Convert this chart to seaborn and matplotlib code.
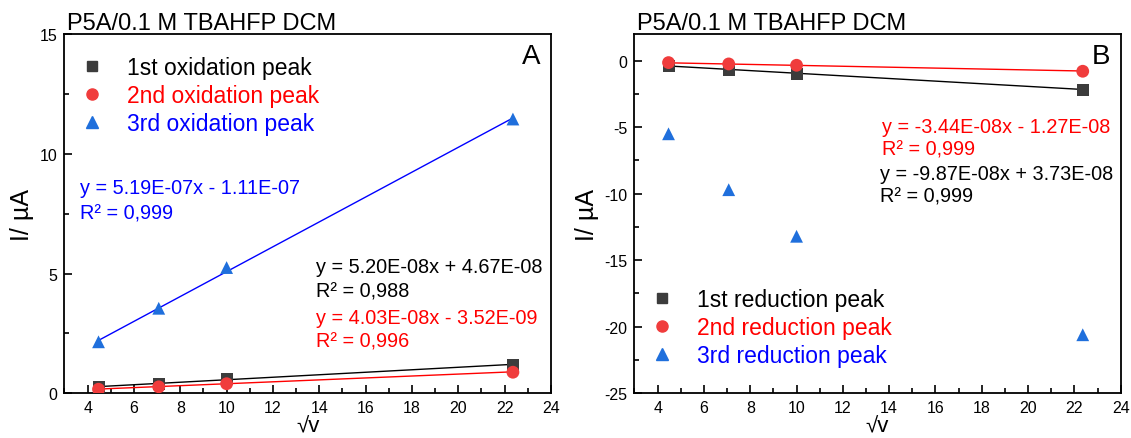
import numpy as np
import pandas as pd
import matplotlib
matplotlib.use("Agg")
import matplotlib.pyplot as plt
from matplotlib.lines import Line2D
import seaborn as sns

# ---------------- data ----------------
sqrt_v = [4.47, 7.07, 10.0, 22.36]

ox1 = [0.27, 0.38, 0.60, 1.20]
ox2 = [0.17, 0.27, 0.40, 0.88]
ox3 = [2.15, 3.55, 5.25, 11.45]

red1 = [-0.40, -0.68, -0.98, -2.20]
red2 = [-0.15, -0.25, -0.35, -0.80]
red3 = [-5.50, -9.70, -13.20, -20.60]

ox_labels = ["1st oxidation peak", "2nd oxidation peak", "3rd oxidation peak"]
red_labels = ["1st reduction peak", "2nd reduction peak", "3rd reduction peak"]

# fit coefficients (in A, shown on chart); plotted in µA
fit_ox1 = (5.20e-08, 4.67e-08)
fit_ox2 = (4.03e-08, -3.52e-09)
fit_ox3 = (5.19e-07, -1.11e-07)
fit_red1 = (-9.87e-08, 3.73e-08)
fit_red2 = (-3.44e-08, -1.27e-08)

eq_ox1 = ["y = 5.20E-08x + 4.67E-08", "R² = 0,988"]
eq_ox2 = ["y = 4.03E-08x - 3.52E-09", "R² = 0,996"]
eq_ox3 = ["y = 5.19E-07x - 1.11E-07", "R² = 0,999"]
eq_red1 = ["y = -9.87E-08x + 3.73E-08", "R² = 0,999"]
eq_red2 = ["y = -3.44E-08x - 1.27E-08", "R² = 0,999"]

title = "P5A/0.1 M TBAHFP DCM"

# ---------------- style ----------------
sns.set_theme(style="white")
plt.rcParams["font.family"] = ["Liberation Sans", "DejaVu Sans"]
plt.rcParams["axes.linewidth"] = 1.3
plt.rcParams["xtick.direction"] = "in"
plt.rcParams["ytick.direction"] = "in"
plt.rcParams["axes.unicode_minus"] = False
plt.rcParams["text.color"] = "black"
plt.rcParams["axes.labelcolor"] = "black"
plt.rcParams["xtick.color"] = "black"
plt.rcParams["ytick.color"] = "black"
plt.rcParams["axes.titlecolor"] = "black"

C_BLK_M = "#3c3c3c"
C_RED_M = "#f03c3c"
C_BLU_M = "#1f6fdc"
C_BLK = "black"
C_RED = "#ff0000"
C_BLU = "#0000ff"

fig = plt.figure(figsize=(11.31, 4.39), dpi=100)
axA = fig.add_axes([0.0570, 0.1018, 0.4301, 0.8185])
axB = fig.add_axes([0.5610, 0.1018, 0.4299, 0.8185])

def fit_line(ax, fit, color):
    xs = np.array([sqrt_v[0], sqrt_v[-1]])
    ys = (fit[0] * xs + fit[1]) * 1e6
    df = pd.DataFrame({"x": xs, "y": ys})
    sns.lineplot(data=df, x="x", y="y", ax=ax, color=color, linewidth=1.0)

def scatter(ax, ys, color, marker, size):
    df = pd.DataFrame({"x": sqrt_v, "y": ys})
    sns.scatterplot(data=df, x="x", y="y", ax=ax, color=color, marker=marker,
                    s=size, edgecolor="none", linewidth=0, zorder=3)

# ---- Panel A ----
fit_line(axA, fit_ox1, C_BLK)
fit_line(axA, fit_ox2, C_RED)
fit_line(axA, fit_ox3, C_BLU)
scatter(axA, ox1, C_BLK_M, "s", 75)
scatter(axA, ox2, C_RED_M, "o", 85)
scatter(axA, ox3, C_BLU_M, "^", 85)

# ---- Panel B ----
fit_line(axB, fit_red1, C_BLK)
fit_line(axB, fit_red2, C_RED)
scatter(axB, red1, C_BLK_M, "s", 75)
scatter(axB, red2, C_RED_M, "o", 85)
scatter(axB, red3, C_BLU_M, "^", 85)

for ax in (axA, axB):
    ax.set_xlim(3, 24)
    ax.set_xticks(np.arange(4, 25, 2))
    ax.set_xticks(np.arange(3, 25, 1), minor=True)
    ax.tick_params(axis="both", which="major", length=6, width=1.2, labelsize=11.5,
                   direction="in", bottom=True, left=True, top=False, right=False, pad=5,
                   colors="black")
    ax.tick_params(axis="both", which="minor", length=3.5, width=1.2,
                   direction="in", bottom=True, left=True, top=False, right=False,
                   colors="black")
    for s in ax.spines.values():
        s.set_color("black")
        s.set_linewidth(1.3)
    ax.set_xlabel("√v", fontsize=16, labelpad=0.5, color="black")
    ax.set_ylabel("I/ µA", fontsize=18, labelpad=4, color="black")
    ax.set_title(title, fontsize=17, loc="left", pad=2, x=0.005, color="black")

axA.set_ylim(0, 15)
axA.set_yticks([0, 5, 10, 15])
axA.set_yticks(np.arange(0, 15.1, 2.5), minor=True)

axB.set_ylim(-25, 2)
axB.set_yticks([-25, -20, -15, -10, -5, 0])
axB.set_yticks(np.arange(-25, 2, 2.5), minor=True)

# legends
def make_legend(ax, labels, anchor):
    handles = [
        Line2D([], [], linestyle="none", marker="s", color=C_BLK_M, markersize=7.5),
        Line2D([], [], linestyle="none", marker="o", color=C_RED_M, markersize=8),
        Line2D([], [], linestyle="none", marker="^", color=C_BLU_M, markersize=8),
    ]
    leg = ax.legend(handles, labels, loc="upper left", bbox_to_anchor=anchor,
                    frameon=False, fontsize=16.5, handlelength=0.9, handletextpad=1.1,
                    labelspacing=0.22, borderpad=0, borderaxespad=0)
    for t, c in zip(leg.get_texts(), [C_BLK, C_RED, C_BLU]):
        t.set_color(c)

make_legend(axA, ox_labels, (0.035, 0.94))
make_legend(axB, red_labels, (0.035, 0.292))

# equations
fs_eq = 14.3
def eq(ax, x, y, lines, color, dy):
    ax.text(x, y, lines[0], transform=ax.transAxes, color=color, fontsize=fs_eq, va="center", ha="left")
    ax.text(x, y - dy, lines[1], transform=ax.transAxes, color=color, fontsize=fs_eq, va="center", ha="left")

eq(axA, 0.032, 0.574, eq_ox3, C_BLU, 0.072)
eq(axA, 0.517, 0.352, eq_ox1, C_BLK, 0.067)
eq(axA, 0.517, 0.212, eq_ox2, C_RED, 0.066)
eq(axB, 0.509, 0.743, eq_red2, C_RED, 0.064)
eq(axB, 0.505, 0.612, eq_red1, C_BLK, 0.064)

axA.text(0.959, 0.938, "A", transform=axA.transAxes, fontsize=20, ha="center", va="center")
axB.text(0.960, 0.939, "B", transform=axB.transAxes, fontsize=20, ha="center", va="center")

fig.savefig("out.png", dpi=100)
